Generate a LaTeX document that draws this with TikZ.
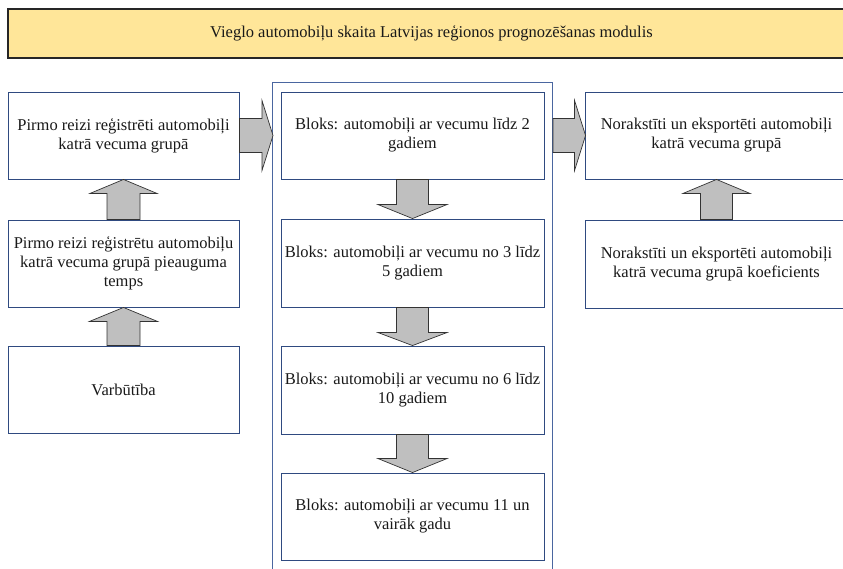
\documentclass[tikz,border=0pt]{standalone}
\usepackage{fontspec}
\setmainfont{Liberation Serif}
\usetikzlibrary{calc}

\definecolor{titlefill}{HTML}{FFE699}
\definecolor{boxline}{HTML}{2F4A80}
\definecolor{contline}{HTML}{4A66A0}
\definecolor{arrowfill}{HTML}{BFBFBF}

\tikzset{
  base/.style={font=\fontsize{16.5}{19}\selectfont, align=center, inner sep=0pt, text=black!90},
  titlebox/.style={base, draw=black!85, fill=titlefill, line width=1.2pt,
    minimum width=847pt, minimum height=49pt},
  stepbox/.style={base, draw=boxline, line width=0.9pt, fill=white},
  leftbox/.style={stepbox, minimum width=231pt, minimum height=87pt},
  widebox/.style={stepbox, minimum width=263pt, minimum height=87pt},
  container/.style={draw=contline, line width=1pt, inner sep=0pt},
  blockarrow/.style={draw=black!80, fill=arrowfill, line width=0.7pt, line join=miter},
}

% block arrow: #1 start, #2 tip, #3 half shaft width, #4 half head width, #5 head length
\newcommand\blkarrow[5]{%
  \coordinate (ba-neck) at ($(#2)!#5!(#1)$);
  \draw[blockarrow] ($(#1)!#3!90:(#2)$) -- ($(ba-neck)!#3!90:(#2)$)
    -- ($(ba-neck)!#4!90:(#2)$) -- (#2) -- ($(ba-neck)!#4!-90:(#2)$)
    -- ($(ba-neck)!#3!-90:(#2)$) -- ($(#1)!#3!-90:(#2)$) -- cycle;}

\begin{document}
\begin{tikzpicture}[x=1pt, y=-1pt]
  \useasboundingbox (0,0) rectangle (843,569);
  \clip (0,0) rectangle (843,569);

  % heading
  \node[titlebox] (title) at (431.5,33.5)
    {Vieglo automobiļu skaita Latvijas reģionos prognozēšanas modulis};

  % frame round the age blocks
  \node[container, minimum width=280pt, minimum height=500pt, anchor=north west]
    (blokcont) at (272,82) {};

  % left column
  \node[leftbox] (b1) at (123.5,135.5) {Pirmo reizi reģistrēti automobiļi\\katrā vecuma grupā};
  \node[leftbox] (b2) at (123.5,263.5) {Pirmo reizi reģistrētu automobiļu\\katrā vecuma grupā pieauguma\\temps};
  \node[leftbox] (b3) at (123.5,389.5) {Varbūtība};

  % age blocks
  \node[widebox] (c1) at (412.5,135.5) {Bloks: automobiļi ar vecumu līdz 2\\gadiem};
  \node[widebox, minimum height=88pt] (c2) at (412.5,263) {Bloks: automobiļi ar vecumu no 3 līdz\\5 gadiem};
  \node[widebox, minimum height=88pt] (c3) at (412.5,390) {Bloks: automobiļi ar vecumu no 6 līdz\\10 gadiem};
  \node[widebox] (c4) at (412.5,516.5) {Bloks: automobiļi ar vecumu 11 un\\vairāk gadu};

  % right column
  \node[widebox] (r1) at (716.5,135.5) {Norakstīti un eksportēti automobiļi\\katrā vecuma grupā};
  \node[widebox, minimum height=88pt] (r2) at (716.5,264) {Norakstīti un eksportēti automobiļi\\katrā vecuma grupā koeficients};

  % arrows
  \coordinate (tipin) at ($(blokcont.west |- b1.east)+(1,0)$);
  \coordinate (outstart) at (blokcont.east |- r1.west);
  \coordinate (tipout) at ($(r1.west)+(1,0)$);

  \blkarrow{b1.east}{tipin}{17pt}{35pt}{11pt}
  \blkarrow{outstart}{tipout}{17pt}{35pt}{11pt}

  \blkarrow{b2.north}{b1.south}{16.5pt}{33.5pt}{14pt}
  \blkarrow{b3.north}{b2.south}{16.5pt}{34pt}{14pt}

  \blkarrow{c1.south}{c2.north}{16pt}{34.5pt}{14pt}
  \blkarrow{c2.south}{c3.north}{16pt}{34.5pt}{13pt}
  \blkarrow{c3.south}{c4.north}{16pt}{34.5pt}{14pt}

  \blkarrow{r2.north}{r1.south}{16pt}{33.5pt}{14pt}
\end{tikzpicture}
\end{document}
